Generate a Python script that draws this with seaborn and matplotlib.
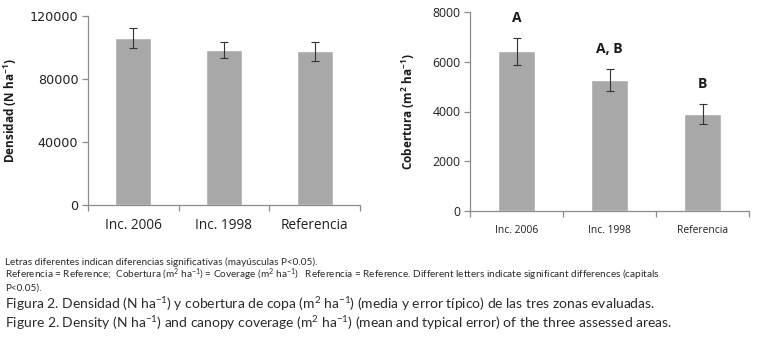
import matplotlib
matplotlib.use("Agg")
import matplotlib.pyplot as plt
import seaborn as sns
import pandas as pd
from matplotlib.ticker import FixedLocator

sns.set_theme(style="white")
plt.rcParams['font.family'] = ['Open Sans', 'DejaVu Sans']
plt.rcParams['mathtext.fontset'] = 'custom'
plt.rcParams['mathtext.rm'] = 'Lato'
plt.rcParams['mathtext.it'] = 'Lato:italic'
plt.rcParams['mathtext.bf'] = 'Open Sans:bold'
plt.rcParams['mathtext.default'] = 'regular'

categories = ["Inc. 2006", "Inc. 1998", "Referencia"]
densidad = [106000, 98200, 97600]
densidad_err = [6500, 5000, 6000]
cobertura = [6430, 5280, 3910]
cobertura_err = [540, 450, 400]
letters = ["A", "A, B", "B"]

dens_ticks = [0, 40000, 80000, 120000]
cob_ticks = [0, 2000, 4000, 6000, 8000]

caption_small = [
    "Letras diferentes indican diferencias significativas (mayúsculas P<0.05).",
    "Referencia = Reference;  Cobertura (m$^{2}$ ha$^{-1}$) = Coverage (m$^{2}$ ha$^{-1}$)   Referencia = Reference. Different letters indicate significant differences (capitals",
    "P<0.05).",
]
caption_big = [
    "Figura 2. Densidad (N ha$^{-1}$) y cobertura de copa (m$^{2}$ ha$^{-1}$) (media y error típico) de las tres zonas evaluadas.",
    "Figure 2. Density (N ha$^{-1}$) and canopy coverage (m$^{2}$ ha$^{-1}$) (mean and typical error) of the three assessed areas.",
]

W, H = 765, 363
fig = plt.figure(figsize=(W / 100, H / 100), dpi=100)

bar_color = "#a8a8a8"
axis_color = "#8c8c8c"


def make_ax(px_left, px_right, px_top, px_bottom):
    return fig.add_axes([px_left / W, 1 - px_bottom / H,
                         (px_right - px_left) / W, (px_bottom - px_top) / H])


def style(ax, ticks, ylim, ysize, yfam, xsize, xpad):
    ax.set_xlim(-0.5, 2.5)
    ax.set_ylim(*ylim)
    ax.set_yticks(ticks)
    ax.set_yticklabels([str(t) for t in ticks], family=yfam)
    for s in ["top", "right"]:
        ax.spines[s].set_visible(False)
    for s in ["left", "bottom"]:
        ax.spines[s].set_color(axis_color)
        ax.spines[s].set_linewidth(0.9)
    ax.tick_params(axis="y", which="major", direction="out", length=4,
                   width=0.9, color=axis_color, labelsize=ysize, pad=3,
                   left=True, labelcolor="#1f1f1f")
    ax.tick_params(axis="x", which="major", length=0, labelsize=xsize,
                   pad=xpad, labelcolor="#1f1f1f")
    ax.xaxis.set_minor_locator(FixedLocator([-0.5, 0.5, 1.5, 2.5]))
    ax.tick_params(axis="x", which="minor", direction="out", length=4,
                   width=0.9, color=axis_color, bottom=True)
    ax.set_xlabel("")
    ax.grid(False)


# Left chart: Densidad
ax1 = make_ax(88, 360, 16, 205)
df1 = pd.DataFrame({"cat": categories, "val": densidad})
sns.barplot(data=df1, x="cat", y="val", color=bar_color, saturation=1,
            width=0.4, errorbar=None, ax=ax1)
ax1.errorbar(range(len(categories)), densidad, yerr=densidad_err, fmt="none",
             ecolor="#333333", elinewidth=0.8, capsize=3, capthick=0.8)
style(ax1, dens_ticks, (0, 120000), 9.2, ["DejaVu Sans"], 9.8, 9)
ax1.set_ylabel(r"Densidad (N ha$^{\mathbf{-1}}$)", fontsize=8.5,
               fontweight="bold", color="#1a1a1a")
ax1.yaxis.set_label_coords(-0.255, 0.5)

# Right chart: Cobertura
ax2 = make_ax(470, 749, 12.3, 210.7)
df2 = pd.DataFrame({"cat": categories, "val": cobertura})
sns.barplot(data=df2, x="cat", y="val", color=bar_color, saturation=1,
            width=0.4, errorbar=None, ax=ax2)
ax2.errorbar(range(len(categories)), cobertura, yerr=cobertura_err, fmt="none",
             ecolor="#333333", elinewidth=0.8, capsize=3, capthick=0.8)
style(ax2, cob_ticks, (0, 8000), 8.8, ["Open Sans"], 7.4, 10)
ax2.set_ylabel(r"Cobertura (m$^{\mathbf{2}}$ ha$^{\mathbf{-1}}$)", fontsize=8.5,
               fontweight="bold", color="#1a1a1a")
ax2.yaxis.set_label_coords(-0.19, 0.5)
for i, (v, e, lab) in enumerate(zip(cobertura, cobertura_err, letters)):
    ax2.annotate(lab, xy=(i, v + e), xytext=(0, 9), textcoords="offset points",
                 ha="center", va="bottom", fontsize=10, fontweight="bold",
                 color="#1a1a1a")

# Caption, fitted to widths measured on the reference
renderer = fig.canvas.get_renderer()
cap_family = ["Lato", "DejaVu Sans"]


def fit_text(s, x_px, y_px, right_px, size0, max_size):
    t = fig.text(x_px / W, 1 - y_px / H, s, ha="left", va="center",
                 fontsize=size0, family=cap_family, fontweight="normal",
                 color="#2a2a2a")
    bb = t.get_window_extent(renderer=renderer)
    t.set_fontsize(min(max_size, size0 * (right_px - x_px) / bb.width))
    return t


fit_text(caption_small[0], 5, 262, 377, 6, 7.2)
fit_text(caption_small[1], 5, 275, 752, 6, 7.2)
fit_text(caption_small[2], 5, 288, 45, 6, 7.2)
fit_text(caption_big[0], 5, 304, 724, 8, 10.0)
fit_text(caption_big[1], 5, 323, 731, 8, 10.0)

fig.savefig("out.png", dpi=100)
